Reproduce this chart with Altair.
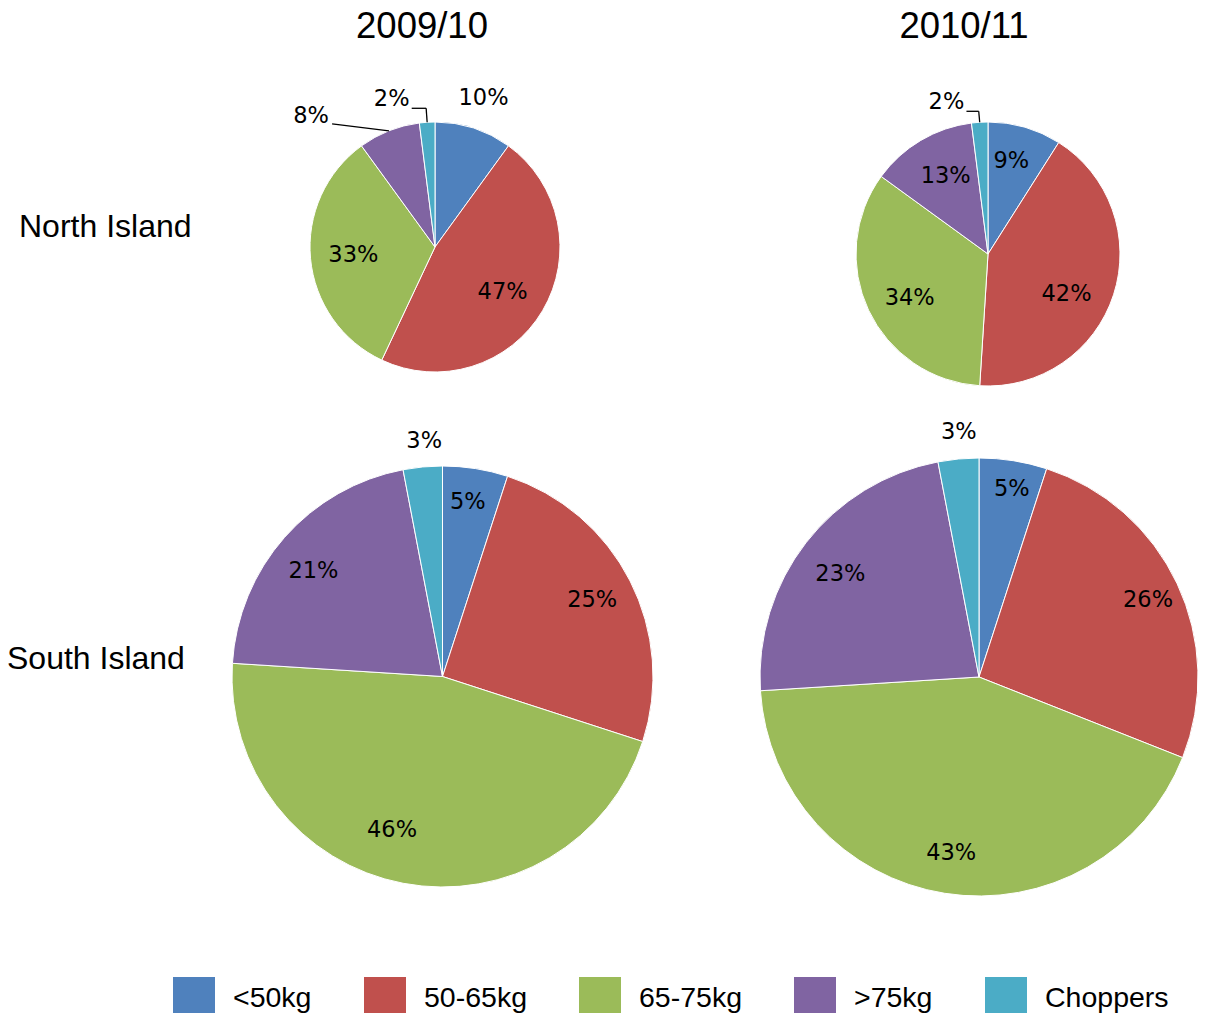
import altair as alt
import pandas as pd

# ---- data ----
categories = ["<50kg", "50-65kg", "65-75kg", ">75kg", "Choppers"]
colors = ["#4F81BD", "#C0504D", "#9BBB59", "#8064A2", "#4BACC6"]
seasons = ["2009/10", "2010/11"]
islands = ["North Island", "South Island"]

ni_2009 = [10, 47, 33, 8, 2]
ni_2010 = [9, 42, 34, 13, 2]
si_2009 = [5, 25, 46, 21, 3]
si_2010 = [5, 26, 43, 23, 3]

# ---- layout ----
W, H = 1190, 1005
LABEL_FONT = "DejaVu Sans"
LABEL_SIZE = 22.5
TITLE_FONT = "Liberation Sans"

# per pie: centre, radius, default label radius, label placement overrides
# overrides: cat -> (radius or None, dx, dy, leader style)
pies = [
    dict(values=ni_2009, cx=427, cy=239, r=125, rin=82,
         lab={"<50kg": (157, 0, 0, None), "50-65kg": (None, -3, 3, None),
              ">75kg": (141, -72, 0, "slant"), "Choppers": (148, -34, 0, "elbow")}),
    dict(values=ni_2010, cx=980, cy=246, r=132, rin=91,
         lab={"<50kg": (None, -2, -6, None), "50-65kg": (None, -8, 12, None),
              "65-75kg": (None, 4, 5, None), ">75kg": (None, 4, 0, None),
              "Choppers": (152, -32, 0, "elbow")}),
    dict(values=si_2009, cx=434.5, cy=668.5, r=210.5, rin=168,
         lab={"<50kg": (None, -1, -9, None), "65-75kg": (None, -19, -12, None),
              ">75kg": (None, -3, 6, None), "Choppers": (237, 4, 0, None)}),
    dict(values=si_2010, cx=971, cy=669, r=219, rin=178,
         lab={"<50kg": (None, 5, -12, None), "50-65kg": (None, 8, -1, None),
              ">75kg": (None, 2, 6, None), "Choppers": (246, 3, 0, None)}),
]

color_scale = alt.Scale(domain=categories, range=colors)
legend = alt.Legend(
    title=None, orient="none", legendX=165, legendY=969, direction="horizontal",
    symbolType="square", symbolSize=1764, symbolStrokeWidth=0, symbolOpacity=1,
    labelFont=TITLE_FONT, labelFontSize=28.5, labelColor="black", labelOffset=18,
    columnPadding=52, padding=0, labelLimit=300,
)
theta_scale = alt.Scale(domain=[0, 100])


def pie_layers(p):
    df = pd.DataFrame({"cat": categories, "value": p["values"], "order": list(range(len(categories)))})
    df["label"] = [f"{v}%" for v in p["values"]]
    base = alt.Chart(df)
    layers = []
    arc = base.mark_arc(outerRadius=p["r"], stroke="white", strokeWidth=1).encode(
        theta=alt.Theta("value:Q", stack=True, scale=theta_scale),
        color=alt.Color("cat:N", scale=color_scale, legend=legend, sort=categories),
        order=alt.Order("order:Q"),
        x=alt.value(p["cx"]),
        y=alt.value(p["cy"]),
    )
    layers.append(arc)

    lab = base.transform_window(
        cum="sum(value)", sort=[alt.SortField("order")], frame=[None, 0]
    ).transform_calculate(mid="datum.cum - datum.value / 2")

    for cat in categories:
        R, dx, dy, leader = p["lab"].get(cat, (None, 0, 0, None))
        if R is None:
            R = p["rin"]
        one = lab.transform_filter(alt.FieldEqualPredicate(field="cat", equal=cat))
        txt = one.mark_text(radius=R, dx=dx, dy=dy, font=LABEL_FONT, fontSize=LABEL_SIZE,
                            color="black").encode(
            theta=alt.Theta("mid:Q", stack=False, scale=theta_scale),
            text="label:N",
            x=alt.value(p["cx"]),
            y=alt.value(p["cy"]),
        )
        layers.append(txt)
        if leader:
            geo = one.transform_calculate(
                ang="datum.mid / 100 * 2 * PI",
            ).transform_calculate(
                lx=f"{p['cx']} + {R} * sin(datum.ang) + {dx}",
                ly=f"{p['cy']} - {R} * cos(datum.ang) + {dy}",
                ex=f"{p['cx']} + {p['r']} * sin(datum.ang)",
                ey=f"{p['cy']} - {p['r']} * cos(datum.ang)",
            )
            if leader == "elbow":
                seg = geo.transform_calculate(
                    x1="datum.lx + 20", y1="datum.ly + 9",
                    x2="datum.ex - 1", y2="datum.ly + 9",
                    x3="datum.ex", y3="datum.ey",
                )
                s1 = seg.mark_rule(color="black", strokeWidth=1.3).encode(
                    x=alt.X("x1:Q", scale=None, axis=None), y=alt.Y("y1:Q", scale=None, axis=None),
                    x2="x2:Q", y2="y2:Q")
                s2 = seg.mark_rule(color="black", strokeWidth=1.3).encode(
                    x=alt.X("x2:Q", scale=None, axis=None), y=alt.Y("y2:Q", scale=None, axis=None),
                    x2="x3:Q", y2="y3:Q")
                layers += [s1, s2]
            else:
                seg = geo.transform_calculate(
                    x1="datum.lx + 21", y1="datum.ly + 8",
                    x2="datum.ex", y2="datum.ey",
                )
                s1 = seg.mark_rule(color="black", strokeWidth=1.3).encode(
                    x=alt.X("x1:Q", scale=None, axis=None), y=alt.Y("y1:Q", scale=None, axis=None),
                    x2="x2:Q", y2="y2:Q")
                layers.append(s1)
    return layers


all_layers = []
for p in pies:
    all_layers += pie_layers(p)

# column titles
title_pos = [(414, 19), (956, 19)]
for s, (tx, ty) in zip(seasons, title_pos):
    all_layers.append(
        alt.Chart(pd.DataFrame({"t": [s]})).mark_text(
            font=TITLE_FONT, fontSize=36.5, color="black", align="center", baseline="middle"
        ).encode(text="t:N", x=alt.value(tx), y=alt.value(ty))
    )

# row labels
row_pos = [(11, 219), (-1, 651)]
for s, (tx, ty) in zip(islands, row_pos):
    all_layers.append(
        alt.Chart(pd.DataFrame({"t": [s]})).mark_text(
            font=TITLE_FONT, fontSize=32, color="black", align="left", baseline="middle"
        ).encode(text="t:N", x=alt.value(tx), y=alt.value(ty))
    )

chart = alt.layer(*all_layers).properties(
    width=W, height=H, padding=0,
    autosize=alt.AutoSizeParams(type="none"),
    background="white",
).configure_view(strokeWidth=0)

chart.save("out.html", embed_options={"renderer": "svg", "actions": False})
